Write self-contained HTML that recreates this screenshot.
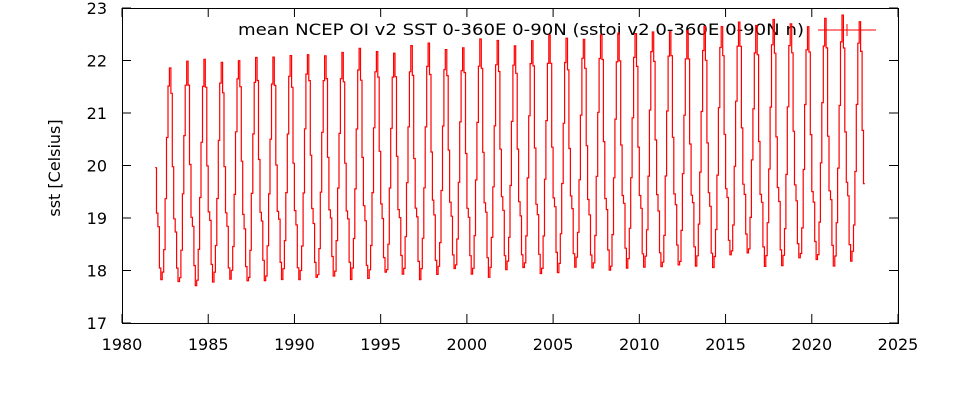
<!DOCTYPE html>
<html><head><meta charset="utf-8"><style>body{margin:0;background:#fff}svg{display:block}text{font-family:"DejaVu Sans",sans-serif;font-size:16px}</style></head>
<body><svg id="s" width="957" height="413" xmlns="http://www.w3.org/2000/svg">
<rect x="122.5" y="8.5" width="776" height="315" fill="none" stroke="#000" stroke-width="1"/>
<g id="ax"></g>
<text x="0" y="0" text-anchor="middle" transform="translate(60,168) rotate(-90)">sst [Celsius]</text>
<text x="804" y="35" text-anchor="end" textLength="566" lengthAdjust="spacingAndGlyphs">mean NCEP OI v2 SST 0-360E 0-90N (sstoi v2 0-360E 0-90N n)</text>
<line x1="818" y1="30" x2="876" y2="30" stroke="red" stroke-width="1"/>
<line x1="847" y1="24" x2="847" y2="36" stroke="red" stroke-width="1"/>
<path id="p" fill="none" stroke="red" stroke-width="1.2"/>
</svg>
<script>
const X=y=>122+(y-1980)*776/45, Y=v=>323-(v-17)*52.5;
let a='';
for(let v=17;v<=23;v++){const y=Y(v);a+=`<line x1="122" x2="131" y1="${y}" y2="${y}" stroke="#000"/><line x1="889" x2="898" y1="${y}" y2="${y}" stroke="#000"/><text x="107" y="${y+6}" text-anchor="end">${v}</text>`;}
for(let yr=1980;yr<=2025;yr+=5){const x=X(yr);a+=`<line x1="${x}" x2="${x}" y1="323" y2="314" stroke="#000"/><line x1="${x}" x2="${x}" y1="8" y2="17" stroke="#000"/><text x="${x}" y="350" text-anchor="middle">${yr}</text>`;}
document.getElementById('ax').innerHTML=a;
const c=[0.25,0.07,0.0,0.03,0.15,0.38,0.64,0.88,0.98,0.86,0.52,0.3];
let d='';
for(let i=0;;i++){const m=(10+i)%12, t=1981+10/12+i/12+1/12; if(t>2023.05)break;
 const r=(Math.sin(i*1.7)*0.5+Math.sin(i*0.37)*0.5);
 const e=t-1982;
 const lo=17.75+e*0.011, hi=22.0+e*0.022;
 let v=lo+(hi-lo)*c[m]+r*0.1;
 if(t>2015&&t<2016.5)v+=0.15;
 const x0=X(t),x1=X(t+1/12),y=Y(v);
 d+=(i?'L':'M')+x0.toFixed(1)+','+y.toFixed(1)+'L'+x1.toFixed(1)+','+y.toFixed(1);}
document.getElementById('p').setAttribute('d',d);
</script></body></html>
